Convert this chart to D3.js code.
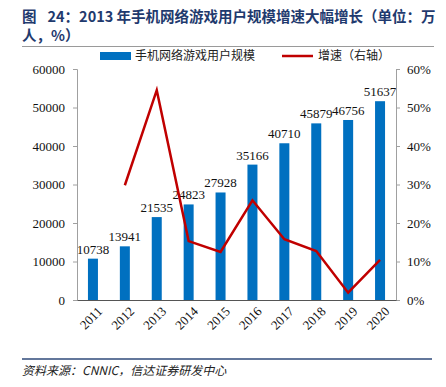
<!DOCTYPE html>
<html><head><meta charset="utf-8">
<script src="https://cdn.jsdelivr.net/npm/d3@7"></script>
<style>
body{margin:0;background:#fff;}
svg{display:block;}
</style></head>
<body>
<svg id="c" width="446" height="387"></svg>
<script>
const years = ["2011","2012","2013","2014","2015","2016","2017","2018","2019","2020"];
const users = [10738,13941,21535,24823,27928,35166,40710,45879,46756,51637];
const growth = [null,29.8,54.5,15.3,12.5,25.9,15.8,12.7,1.9,10.4];
const leftTicks = [0,10000,20000,30000,40000,50000,60000];
const rightTicks = [0,10,20,30,40,50,60];

const svg = d3.select("#c");
const m = {l:77, r:396, t:69, b:300};
const x = d3.scaleBand().domain(years).range([m.l, m.r]);
const yL = d3.scaleLinear().domain([0,60000]).range([m.b, m.t]);
const yR = d3.scaleLinear().domain([0,60]).range([m.b, m.t]);
const serif = "'Liberation Serif','Times New Roman',serif";
const cjk = "'Noto Sans CJK SC','Noto Sans',sans-serif";

// title
const title = svg.append("g").attr("font-family", cjk).attr("font-weight","bold").attr("fill","#1F3A6E").attr("font-size","14.5px");
const t1 = title.append("text").attr("x",22).attr("y",22);
t1.append("tspan").text("图");
t1.append("tspan").attr("dx",11).text("24：2013 年手机网络游戏用户规模增速大幅增长（单位：万");
title.append("text").attr("x",22).attr("y",41).text("人，%）");
svg.append("line").attr("x1",22).attr("x2",434).attr("y1",46.5).attr("y2",46.5).attr("stroke","#9a9a9a").attr("stroke-width",1);

// legend
svg.append("rect").attr("x",100).attr("y",52).attr("width",31).attr("height",8).attr("fill","#0070C0");
svg.append("text").attr("x",135).attr("y",60).attr("font-family",cjk).attr("font-size","12px").attr("fill","#222").text("手机网络游戏用户规模");
svg.append("line").attr("x1",282).attr("x2",313).attr("y1",56).attr("y2",56).attr("stroke","#C00000").attr("stroke-width",2.5);
svg.append("text").attr("x",318).attr("y",60).attr("font-family",cjk).attr("font-size","12px").attr("fill","#222").text("增速（右轴）");

// bars
const bw = 10;
svg.append("g").selectAll("rect").data(years).join("rect")
  .attr("x", d => x(d) + x.bandwidth()/2 - bw/2)
  .attr("width", bw)
  .attr("y", (d,i) => yL(users[i]))
  .attr("height", (d,i) => m.b - yL(users[i]))
  .attr("fill", "#0070C0");

// bar labels
svg.append("g").selectAll("text").data(years).join("text")
  .attr("x", d => x(d) + x.bandwidth()/2)
  .attr("y", (d,i) => yL(users[i]) - 5)
  .attr("text-anchor","middle")
  .attr("font-family", serif).attr("font-size","13px").attr("fill","#111")
  .text((d,i) => users[i]);

// line
const line = d3.line().defined(d => d[1] !== null)
  .x(d => x(d[0]) + x.bandwidth()/2).y(d => yR(d[1]));
svg.append("path").datum(years.map((y,i)=>[y,growth[i]]))
  .attr("d", line).attr("fill","none").attr("stroke","#C00000").attr("stroke-width",2.5).attr("stroke-linejoin","miter");

// axes
const axL = svg.append("g").attr("transform",`translate(${m.l},0)`)
  .call(d3.axisLeft(yL).tickValues(leftTicks).tickSize(4).tickPadding(8).tickFormat(d3.format("d")));
const axR = svg.append("g").attr("transform",`translate(${m.r},0)`)
  .call(d3.axisRight(yR).tickValues(rightTicks).tickSize(4).tickPadding(7).tickFormat(d => d + "%"));
const axB = svg.append("g").attr("transform",`translate(0,${m.b})`)
  .call(d3.axisBottom(x).tickSize(0).tickPadding(8));
[axL, axR, axB].forEach(a => {
  a.selectAll("text").attr("font-family", serif).attr("font-size","13px").attr("fill","#111");
  a.select(".domain").attr("stroke","#a0a0a0");
  a.selectAll(".tick line").attr("stroke","#a0a0a0");
});
axB.select(".domain").attr("stroke","#555");
axB.selectAll("text").attr("text-anchor","end").attr("dx","-0.1em").attr("dy","0.6em")
  .attr("transform","rotate(-45)");

// source
svg.append("line").attr("x1",22).attr("x2",432).attr("y1",359).attr("y2",359).attr("stroke","#2F4A7A").attr("stroke-width",1.5);
svg.append("text").attr("x",22).attr("y",375).attr("font-family",cjk).attr("font-style","italic").attr("font-size","12px").attr("fill","#222")
  .text("资料来源：CNNIC，信达证券研发中心");
</script>
</body></html>
